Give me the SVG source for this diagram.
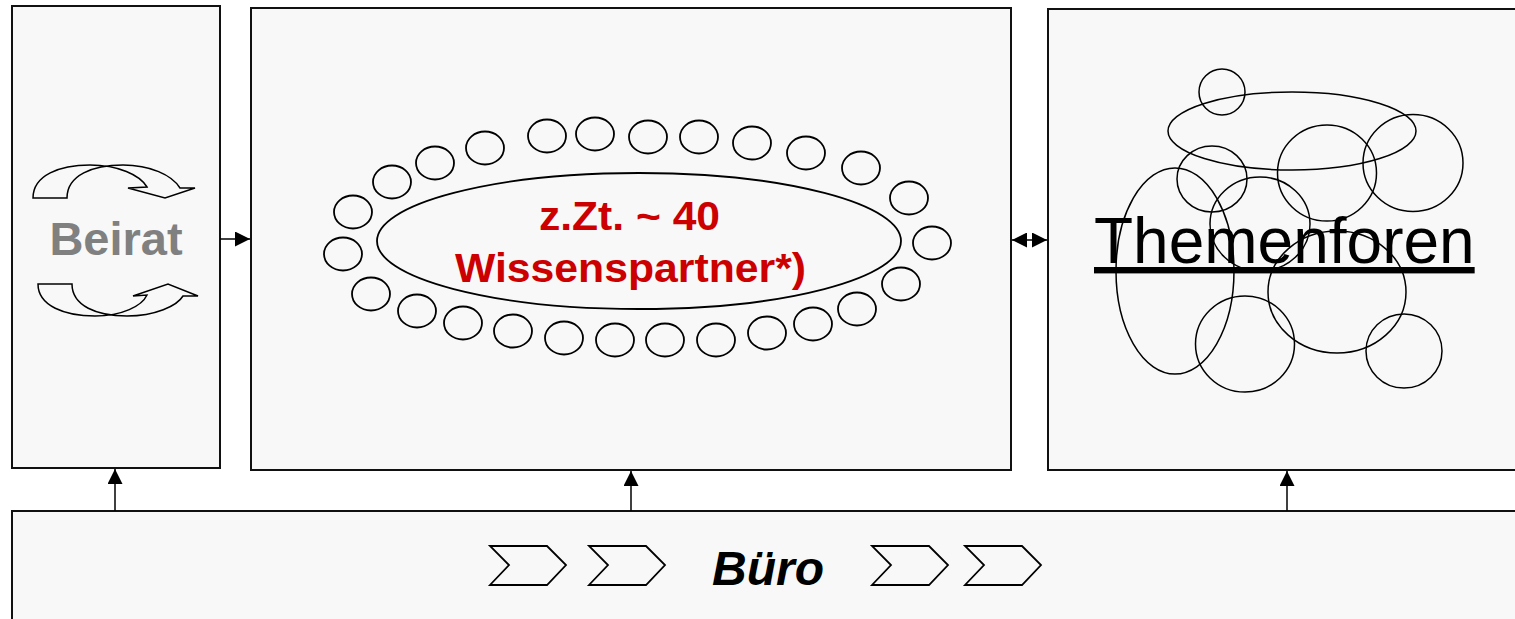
<svg xmlns="http://www.w3.org/2000/svg" width="1515" height="619" viewBox="0 0 1515 619">
<style>
.box{fill:#f8f8f8;stroke:#111;stroke-width:2}
.c{fill:none;stroke:#000;stroke-width:1.8}
.t{fill:none;stroke:#000;stroke-width:1.5}
.con{stroke:#000;stroke-width:1.5;fill:none}
.cur{fill:#f8f8f8;stroke:#000;stroke-width:1.5;stroke-linejoin:miter}
.chev{fill:none;stroke:#000;stroke-width:1.8}
</style>
<defs>
<marker id="ah" viewBox="0 0 16 16" refX="16" refY="8" markerWidth="15" markerHeight="15" markerUnits="userSpaceOnUse" orient="auto-start-reverse">
<path d="M0,0 L16,8 L0,16 z" fill="#000"/>
</marker>
</defs>
<rect width="1515" height="619" fill="#fff"/>
<g id="beirat">
<rect class="box" x="12" y="6" width="208" height="462"/>
<path class="cur" d="M33,198 C33,175 60,165 90,165 C118,165 140,175 147,187 L128,188 L165,198 L195,188 L180,188 C172,175 150,165 123,165 C93,165 67,175 67,198 Z"/>
<path class="cur" d="M38,284 C38,306 65,316 95,316 C122,316 142,306 147,295 L133,296 L168,284 L198,296 L183,296 C177,306 155,316 127,316 C97,316 72,306 72,284 Z"/>
<text x="116" y="255" text-anchor="middle" font-family="Liberation Sans, Arial, sans-serif" font-weight="bold" font-size="47" fill="#808080">Beirat</text>
</g>
<g id="wissenspartner">
<rect class="box" x="251" y="8" width="760" height="462"/>
<ellipse class="c" cx="639" cy="241" rx="262" ry="68"/>
<g class="c">
<ellipse cx="353" cy="212" rx="19" ry="16.5"/>
<ellipse cx="392" cy="182" rx="19" ry="16.5"/>
<ellipse cx="435" cy="163" rx="19" ry="16.5"/>
<ellipse cx="485" cy="148" rx="19" ry="16.5"/>
<ellipse cx="547" cy="136" rx="19" ry="16.5"/>
<ellipse cx="595" cy="134" rx="19" ry="16.5"/>
<ellipse cx="648" cy="137" rx="19" ry="16.5"/>
<ellipse cx="699" cy="137" rx="19" ry="16.5"/>
<ellipse cx="752" cy="143" rx="19" ry="16.5"/>
<ellipse cx="806" cy="153" rx="19" ry="16.5"/>
<ellipse cx="861" cy="168" rx="19" ry="16.5"/>
<ellipse cx="909" cy="198" rx="19" ry="16.5"/>
<ellipse cx="343" cy="254" rx="19" ry="16.5"/>
<ellipse cx="932" cy="243" rx="19" ry="16.5"/>
<ellipse cx="371" cy="294" rx="19" ry="16.5"/>
<ellipse cx="417" cy="311" rx="19" ry="16.5"/>
<ellipse cx="463" cy="323" rx="19" ry="16.5"/>
<ellipse cx="513" cy="331" rx="19" ry="16.5"/>
<ellipse cx="564" cy="338" rx="19" ry="16.5"/>
<ellipse cx="615" cy="340" rx="19" ry="16.5"/>
<ellipse cx="665" cy="340" rx="19" ry="16.5"/>
<ellipse cx="716" cy="340" rx="19" ry="16.5"/>
<ellipse cx="767" cy="333" rx="19" ry="16.5"/>
<ellipse cx="813" cy="324" rx="19" ry="16.5"/>
<ellipse cx="857" cy="309" rx="19" ry="16.5"/>
<ellipse cx="901" cy="284" rx="19" ry="16.5"/>
</g>
<g font-family="Liberation Sans, Arial, sans-serif" font-weight="bold" font-size="40" fill="#cc0000">
<text x="539" y="230" textLength="181" lengthAdjust="spacingAndGlyphs">z.Zt. ~ 40</text>
<text x="455" y="282" textLength="351" lengthAdjust="spacingAndGlyphs">Wissenspartner*)</text>
</g>
</g>
<g id="themenforen">
<rect class="box" x="1048" y="9" width="480" height="461"/>
<g class="t">
<circle cx="1222" cy="92" r="23"/>
<ellipse cx="1292" cy="131" rx="124" ry="39"/>
<ellipse cx="1327" cy="173" rx="49.5" ry="48"/>
<ellipse cx="1413" cy="163" rx="50" ry="48.5"/>
<ellipse cx="1212" cy="179" rx="35" ry="33"/>
<ellipse cx="1175" cy="271" rx="59" ry="103"/>
<ellipse cx="1260" cy="224" rx="50" ry="47"/>
<ellipse cx="1337" cy="292" rx="69" ry="61"/>
<ellipse cx="1245" cy="344" rx="49.5" ry="48"/>
<ellipse cx="1404" cy="351" rx="38" ry="37"/>
</g>
<text x="1094" y="263" font-family="Liberation Sans, Arial, sans-serif" font-size="64" fill="#000" text-decoration="underline">Themenforen</text>
</g>
<g id="buero">
<rect class="box" x="12" y="511" width="1515" height="120"/>
<path class="chev" d="M490,546 L547,546 L566,565 L547,585 L490,585 L509,565 Z"/>
<path class="chev" d="M589,546 L646,546 L665,565 L646,585 L589,585 L608,565 Z"/>
<path class="chev" d="M872,546 L929,546 L948,565 L929,585 L872,585 L891,565 Z"/>
<path class="chev" d="M965,546 L1022,546 L1041,565 L1022,585 L965,585 L984,565 Z"/>
<text x="712" y="585" font-family="Liberation Sans, Arial, sans-serif" font-weight="bold" font-style="italic" font-size="48" fill="#000">Büro</text>
</g>
<g id="connectors">
<line class="con" x1="220" y1="239" x2="250" y2="239" marker-end="url(#ah)"/>
<line class="con" x1="1012" y1="240" x2="1047" y2="240" marker-start="url(#ah)" marker-end="url(#ah)"/>
<line class="con" x1="115" y1="511" x2="115" y2="469" marker-end="url(#ah)"/>
<line class="con" x1="631" y1="511" x2="631" y2="471" marker-end="url(#ah)"/>
<line class="con" x1="1287" y1="511" x2="1287" y2="471" marker-end="url(#ah)"/>
</g>
</svg>
